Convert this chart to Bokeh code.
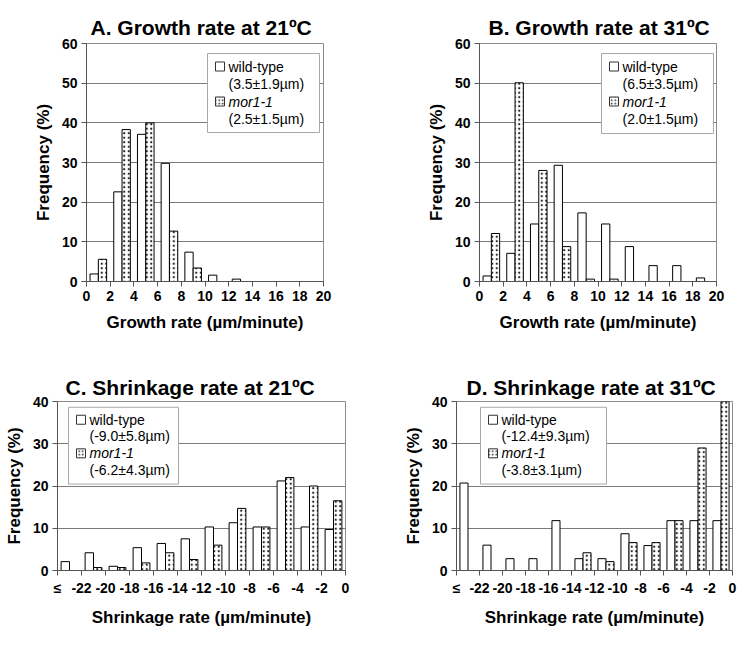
from bokeh.plotting import figure
from bokeh.layouts import column, row
from bokeh.models import FixedTicker, Range1d
from bokeh.embed import file_html
from bokeh.resources import INLINE
from bokeh.core.properties import value

# ---------------- data ----------------
growth_bin_centers = [1, 3, 5, 7, 9, 11, 13, 15, 17, 19]
growth_ticks = [0, 2, 4, 6, 8, 10, 12, 14, 16, 18, 20]
growth21_wt = [1.9, 22.6, 37.1, 29.8, 7.4, 1.6, 0.6, 0, 0, 0]
growth21_mor = [5.6, 38.3, 40.0, 12.7, 3.4, 0, 0, 0, 0, 0]
growth31_wt = [1.4, 7.1, 14.5, 29.3, 17.3, 14.5, 8.8, 4.0, 4.0, 0.9]
growth31_mor = [12.1, 50.1, 28.0, 8.8, 0.6, 0.6, 0, 0, 0, 0]

shrink_bin_centers = [-23, -21, -19, -17, -15, -13, -11, -9, -7, -5, -3, -1]
shrink_ticks = [-24, -22, -20, -18, -16, -14, -12, -10, -8, -6, -4, -2, 0]
shrink_tick_labels = ["≤", "-22", "-20", "-18", "-16", "-14", "-12", "-10",
                      "-8", "-6", "-4", "-2", "0"]
shrink21_wt = [2.1, 4.2, 1.0, 5.4, 6.4, 7.5, 10.3, 11.3, 10.3, 21.2, 10.3, 9.7]
shrink21_mor = [0, 0.7, 0.7, 1.8, 4.2, 2.6, 6.0, 14.7, 10.3, 22.0, 20.0, 16.5]
shrink31_wt = [20.7, 6.0, 2.8, 2.8, 11.8, 2.8, 2.8, 8.7, 5.9, 11.8, 11.8, 11.8]
shrink31_mor = [0, 0, 0, 0, 0, 4.2, 2.1, 6.6, 6.6, 11.8, 29.0, 40.0]

freq_ticks_growth = [0, 10, 20, 30, 40, 50, 60]
freq_ticks_shrink = [0, 10, 20, 30, 40]

series_names = ["wild-type", "mor1-1"]
legend_A = ["(3.5±1.9µm)", "(2.5±1.5µm)"]
legend_B = ["(6.5±3.5µm)", "(2.0±1.5µm)"]
legend_C = ["(-9.0±5.8µm)", "(-6.2±4.3µm)"]
legend_D = ["(-12.4±9.3µm)", "(-3.8±3.1µm)"]

titles = ["A. Growth rate at 21ºC", "B. Growth rate at 31ºC",
          "C. Shrinkage rate at 21ºC", "D. Shrinkage rate at 31ºC"]
xlabels = ["Growth rate (µm/minute)", "Growth rate (µm/minute)",
           "Shrinkage rate (µm/minute)", "Shrinkage rate (µm/minute)"]
ylabel = "Frequency (%)"

FONT = "Liberation Sans"
BAR_W = 0.7


def make_panel(width, height, left, right, top, bottom, xr, yr, ticks_x, ticks_y,
               title, xlabel, title_offset, title_standoff, centers, wt, mor,
               legend_box, legend_texts, tick_overrides=None):
    fw = width - left - right
    fh = height - top - bottom
    p = figure(width=width, height=height, x_range=Range1d(*xr), y_range=Range1d(*yr),
               output_backend="svg", toolbar_location=None,
               min_border_left=left, min_border_right=right,
               min_border_top=top, min_border_bottom=bottom)
    p.background_fill_color = "white"
    p.border_fill_color = "white"
    p.outline_line_color = "#8c8c8c"
    p.outline_line_width = 1

    p.title.text = title
    p.title.text_font = FONT
    p.title.text_font_size = "21px"
    p.title.text_font_style = "bold"
    p.title.align = "left"
    p.title.offset = title_offset
    p.title.standoff = title_standoff
    p.title.text_color = "black"

    p.xgrid.visible = False
    p.ygrid.grid_line_color = "#7a7a7a"
    p.ygrid.grid_line_width = 1
    p.ygrid.ticker = FixedTicker(ticks=ticks_y)

    for ax in (p.xaxis[0], p.yaxis[0]):
        ax.axis_line_color = "#555555"
        ax.major_tick_line_color = "#555555"
        ax.minor_tick_line_color = None
        ax.major_tick_in = 0
        ax.major_tick_out = 5
        ax.major_label_text_font = FONT
        ax.major_label_text_font_size = "14px"
        ax.major_label_text_font_style = "bold"
        ax.major_label_text_color = "black"
        ax.axis_label_text_font = FONT
        ax.axis_label_text_font_size = "17px"
        ax.axis_label_text_font_style = "bold"
        ax.axis_label_text_color = "black"
        ax.major_label_standoff = 4
    p.xaxis.ticker = FixedTicker(ticks=ticks_x)
    p.yaxis.ticker = FixedTicker(ticks=ticks_y)
    p.xaxis.axis_label = xlabel
    p.yaxis.axis_label = ylabel
    p.xaxis.axis_label_standoff = 9
    p.yaxis.axis_label_standoff = 6
    if tick_overrides:
        p.xaxis.major_label_overrides = tick_overrides

    wt_x = [c - BAR_W / 2 for c in centers]
    mor_x = [c + BAR_W / 2 for c in centers]
    p.vbar(x=wt_x, top=wt, width=BAR_W, bottom=0, fill_color="white",
           line_color="black", line_width=1)
    p.vbar(x=mor_x, top=mor, width=BAR_W, bottom=0, fill_color="white",
           line_color="black", line_width=1, hatch_pattern="dot",
           hatch_scale=4.5, hatch_weight=1.4, hatch_color="#222222")

    # legend (positions in pixels from frame top-left, converted to data units)
    x0, x1 = xr
    y0, y1 = yr
    dx = (x1 - x0) / fw
    dy = (y1 - y0) / fh

    def X(px):
        return x0 + px * dx

    def Y(py):
        return y1 - py * dy

    bl, bt, bw, bh = legend_box
    rows_px = [13, 30, 48, 65]
    p.quad(left=[X(bl)], right=[X(bl + bw)], top=[Y(bt)], bottom=[Y(bt + bh)],
           fill_color="white", line_color="#a8a8a8", line_width=1)
    p.rect(x=[X(bl + 12.5)], y=[Y(bt + rows_px[0])], width=9, height=9,
           width_units="screen", height_units="screen",
           fill_color="white", line_color="#333333", line_width=1)
    p.rect(x=[X(bl + 12.5)], y=[Y(bt + rows_px[2])], width=9, height=9,
           width_units="screen", height_units="screen",
           fill_color="white", line_color="#333333", line_width=1,
           hatch_pattern="dot", hatch_scale=3.5, hatch_weight=1.3, hatch_color="#222222")
    tx = X(bl + 21)
    p.text(x=[tx, tx, tx], y=[Y(bt + rows_px[0]), Y(bt + rows_px[1]), Y(bt + rows_px[3])],
           text=[series_names[0], legend_texts[0], legend_texts[1]],
           text_baseline="middle", text_align="left", text_font=value(FONT),
           text_font_size="14px", text_color="black")
    p.text(x=[tx], y=[Y(bt + rows_px[2])], text=[series_names[1]],
           text_baseline="middle", text_align="left", text_font=value(FONT),
           text_font_size="14px", text_font_style="italic", text_color="black")
    return p


shrink_over = {t: lab for t, lab in zip(shrink_ticks, shrink_tick_labels)}

pA = make_panel(368, 337, 86, 45, 43, 56, (0, 20), (0, 60), growth_ticks, freq_ticks_growth,
                titles[0], xlabels[0], 4, 9, growth_bin_centers, growth21_wt, growth21_mor,
                (121, 10, 112, 79), legend_A)
pB = make_panel(369, 337, 111, 21, 43, 56, (0, 20), (0, 60), growth_ticks, freq_ticks_growth,
                titles[1], xlabels[1], 9, 9, growth_bin_centers, growth31_wt, growth31_mor,
                (122, 10, 112, 80), legend_B)
pC = make_panel(368, 292, 57, 23, 64, 52, (-24, 0), (0, 40), shrink_ticks, freq_ticks_shrink,
                titles[2], xlabels[2], 8, 5, shrink_bin_centers, shrink21_wt, shrink21_mor,
                (11, 6, 110, 80), legend_C, shrink_over)
pD = make_panel(369, 292, 88, 5, 64, 52, (-24, 0), (0, 40), shrink_ticks, freq_ticks_shrink,
                titles[3], xlabels[3], 10, 5, shrink_bin_centers, shrink31_wt, shrink31_mor,
                (24, 6, 126, 80), legend_D, shrink_over)

layout = column(row(pA, pB), row(pC, pD))
open("out.html", "w").write(file_html(layout, INLINE))
